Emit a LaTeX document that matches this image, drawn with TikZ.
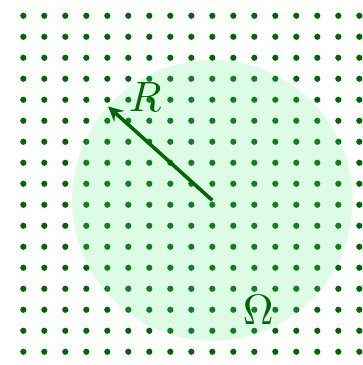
\documentclass[tikz,border=0pt]{standalone}
\usepackage{tikz}
\definecolor{dotgreen}{RGB}{0,100,0}
\definecolor{regionfill}{RGB}{80,240,130}

\begin{document}
\begin{tikzpicture}[x=0.25cm,y=0.25cm,every node/.style={scale=1.44,text=dotgreen}]
  \useasboundingbox (-1.11,-0.63) rectangle (16.13,16.75);
  \foreach \i in {0,...,16}
    \foreach \j in {0,...,16}
      \fill[dotgreen] (\i,\j) circle [radius=1.05pt];
  \coordinate (O) at (9,7.21);
  \coordinate (P) at (4.04,11.68);
  \fill[regionfill,opacity=.2] (O) circle [radius=6.68];
  \draw [-stealth,dotgreen,very thick] (O)--(P);
  \node (R) at (5.8,12.13) {$R$};
  \node (Om) at (11.19,1.99) {$\Omega$};
\end{tikzpicture}
\end{document}
